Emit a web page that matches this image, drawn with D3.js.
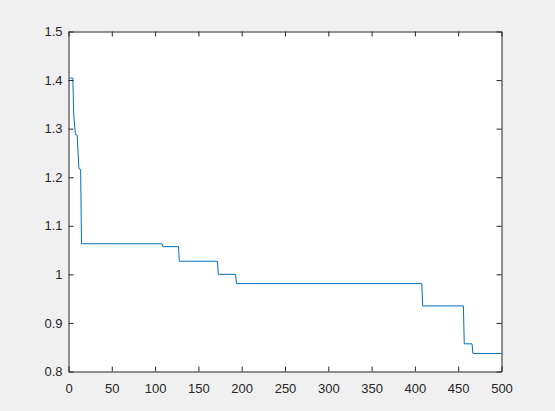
<!DOCTYPE html>
<html>
<head>
<meta charset="utf-8">
<script src="https://cdn.jsdelivr.net/npm/d3@7"></script>
<style>
  html, body { margin: 0; padding: 0; background: #f0f0f0; }
  svg { display: block; }
  .tick text { font-family: "Liberation Sans", Arial, sans-serif; font-size: 13px; fill: #262626; }
</style>
</head>
<body>
<div id="chart"></div>
<script>
// breakpoints of the curve (iteration, value)
var iterations = [1, 5, 6, 8, 10, 12, 14, 15, 108, 109, 127, 128, 172, 173, 193, 194, 408, 409, 456, 457, 466, 467, 500];
var values = [1.404, 1.404, 1.330, 1.288, 1.287, 1.218, 1.216, 1.063, 1.063, 1.057, 1.057, 1.027, 1.027, 1.000, 1.000, 0.981, 0.981, 0.935, 0.935, 0.857, 0.857, 0.837, 0.837];

var xTicks = [0, 50, 100, 150, 200, 250, 300, 350, 400, 450, 500];
var yTicks = [0.8, 0.9, 1.0, 1.1, 1.2, 1.3, 1.4, 1.5];

var W = 555, H = 411;
var margin = { left: 68, top: 31, right: 54, bottom: 40 };
var width = W - margin.left - margin.right;   // 433
var height = H - margin.top - margin.bottom;  // 340
var axisColor = "#262626";
var tickLen = 5;

var svg = d3.select("#chart")
  .append("svg")
  .attr("width", W)
  .attr("height", H);

var g = svg.append("g")
  .attr("transform", "translate(" + (margin.left + 0.5) + "," + (margin.top + 0.5) + ")");

g.append("rect")
  .attr("width", width)
  .attr("height", height)
  .attr("fill", "#ffffff");

var x = d3.scaleLinear().domain([0, 500]).range([0, width]);
var y = d3.scaleLinear().domain([0.8, 1.5]).range([height, 0]);

var fmtY = function(d) { return String(+d.toFixed(1)); };

// data line
var pts = iterations.map(function(it, i) { return [it, values[i]]; });
var line = d3.line()
  .x(function(d) { return x(d[0]); })
  .y(function(d) { return y(d[1]); });

g.append("path")
  .datum(pts)
  .attr("fill", "none")
  .attr("stroke", "#0072bd")
  .attr("stroke-width", 1)
  .attr("d", line);

// axes, MATLAB style: ticks pointing inward on all four sides
var axBottom = g.append("g")
  .attr("transform", "translate(0," + height + ")")
  .call(d3.axisBottom(x).tickValues(xTicks).tickSizeInner(-tickLen).tickSizeOuter(0).tickPadding(12));

var axTop = g.append("g")
  .call(d3.axisTop(x).tickValues(xTicks).tickSizeInner(-tickLen).tickSizeOuter(0).tickFormat(""));

var axLeft = g.append("g")
  .call(d3.axisLeft(y).tickValues(yTicks).tickSizeInner(-tickLen).tickSizeOuter(0).tickPadding(6).tickFormat(fmtY));

var axRight = g.append("g")
  .attr("transform", "translate(" + width + ",0)")
  .call(d3.axisRight(y).tickValues(yTicks).tickSizeInner(-tickLen).tickSizeOuter(0).tickFormat(""));

[axBottom, axTop, axLeft, axRight].forEach(function(a) {
  a.select(".domain").attr("stroke", axisColor);
  a.selectAll(".tick line").attr("stroke", axisColor);
  a.selectAll(".tick text").attr("fill", axisColor);
});
</script>
</body>
</html>
